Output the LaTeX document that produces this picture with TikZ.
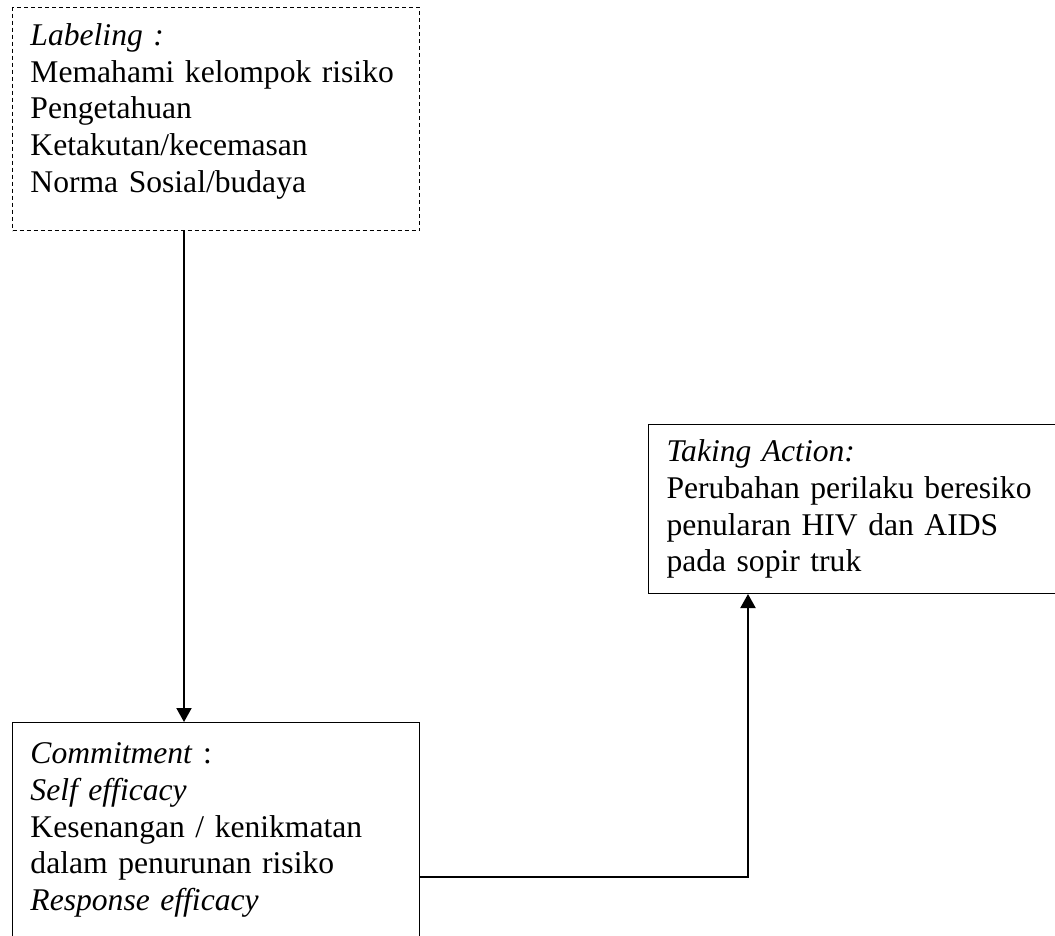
\documentclass[tikz,border=0pt]{standalone}
\usepackage{fontspec}
\setmainfont{Liberation Serif}
\usetikzlibrary{arrows.meta}
\begin{document}
\begin{tikzpicture}[x=1pt,y=-1pt,
    box/.style={draw, line width=1pt, anchor=north west, align=left,
        text width=371pt, inner xsep=18pt, inner ysep=0pt,
        font=\fontsize{31.6}{36.8}\selectfont},
    link/.style={line width=2pt},
    arr/.style={link, -{Triangle[width=15pt,length=14pt]}}]
    \useasboundingbox (0,0) rectangle (1055,935);

    % Boxes
    \node[box, dash pattern=on 4pt off 3pt, minimum height=223pt] (label) at (12,7)
        {\textit{Labeling :}\\ Memahami kelompok risiko\\ Pengetahuan\\
         Ketakutan/kecemasan\\ Norma Sosial/budaya\rule[-22pt]{0pt}{22pt}};
    \node[box, text width=372pt, minimum height=169pt] (act) at (648,424)
        {\textit{Taking Action:}\\ Perubahan perilaku beresiko\\
         penularan HIV dan AIDS\\ pada sopir truk};
    \node[box, minimum height=215pt] (commit) at (12,722)
        {\textit{Commitment} :\\ \textit{Self efficacy}\\ Kesenangan / kenikmatan\\
         dalam penurunan risiko\\ \textit{Response efficacy}};

    % Connectors
    \coordinate (down) at (184,0);
    \coordinate (turn) at (748,877);
    \draw[arr] (label.south -| down) -- (commit.north -| down);
    \draw[arr] (commit.east |- turn) -- (turn) -- (act.south -| turn);
\end{tikzpicture}
\end{document}
